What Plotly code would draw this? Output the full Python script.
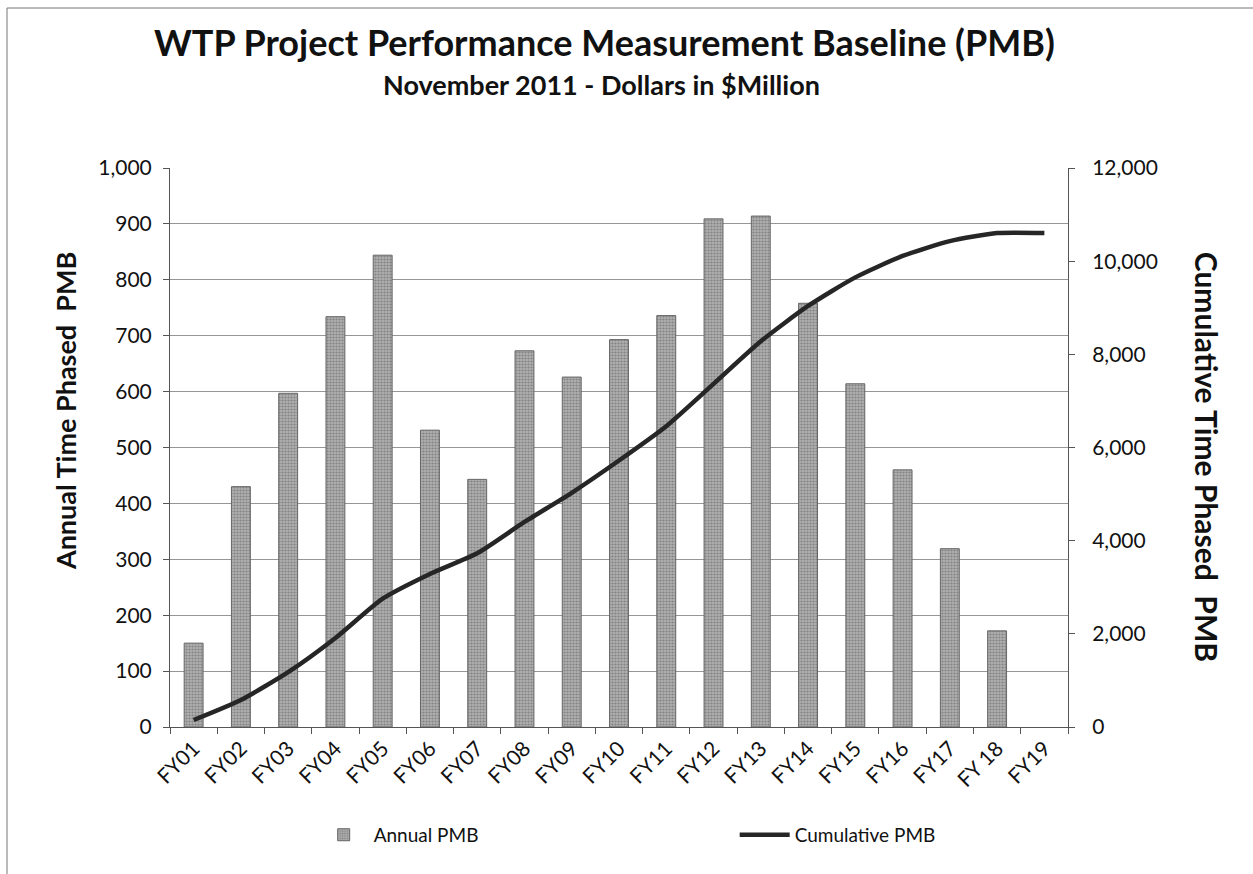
import plotly.graph_objects as go

categories = ["FY01", "FY02", "FY03", "FY04", "FY05", "FY06", "FY07", "FY08", "FY09", "FY10",
              "FY11", "FY12", "FY13", "FY14", "FY15", "FY16", "FY17", "FY 18", "FY19"]
annual_pmb = [150, 430, 597, 734, 844, 531, 443, 673, 626, 693,
              736, 909, 914, 758, 614, 460, 319, 172, None]
cumulative_pmb = [150, 580, 1177, 1911, 2755, 3286, 3729, 4402, 5028, 5721,
                  6457, 7366, 8280, 9038, 9652, 10112, 10431, 10603, 10603]

FONT = "Lato"
INK = "#111111"

fig = go.Figure()
fig.add_trace(go.Bar(
    x=categories, y=annual_pmb, name="Annual PMB",
    marker=dict(
        color="#a4a4a4",
        line=dict(color="#666666", width=1),
        pattern=dict(shape=".", fgcolor="#555555", bgcolor="#b0b0b0", size=3, solidity=0.42),
    ),
    width=0.4, yaxis="y",
))
fig.add_trace(go.Scatter(
    x=categories, y=cumulative_pmb, name="Cumulative PMB", mode="lines",
    line=dict(color="#262626", width=4.5, shape="spline", smoothing=0.6),
    yaxis="y2",
))

fig.update_layout(
    width=1253, height=874,
    paper_bgcolor="white", plot_bgcolor="white",
    margin=dict(l=170, r=185, t=168, b=147, autoexpand=False),
    font=dict(family=FONT, color=INK),
    xaxis=dict(
        type="category", tickangle=-45, tickfont=dict(size=21, family=FONT, color=INK),
        showline=True, linecolor="#555555", linewidth=1,
        ticks="outside", ticklen=6, tickcolor="#555555", tickson="boundaries",
        showgrid=False, automargin=False,
    ),
    yaxis=dict(
        range=[0, 1000], dtick=100, tickformat=",", tickfont=dict(size=21, family=FONT, color=INK),
        showline=True, linecolor="#555555", linewidth=1,
        ticks="outside", ticklen=6, tickcolor="#555555", ticklabelstandoff=7,
        showgrid=True, gridcolor="#969696", gridwidth=1,
        zeroline=False, automargin=False,
    ),
    yaxis2=dict(
        range=[0, 12000], dtick=2000, tickformat=",", tickfont=dict(size=21, family=FONT, color=INK),
        overlaying="y", side="right",
        showline=True, linecolor="#555555", linewidth=1,
        ticks="outside", ticklen=6, tickcolor="#555555", ticklabelstandoff=13,
        showgrid=False, zeroline=False, automargin=False,
    ),
    legend=dict(
        orientation="h", x=0.16, xanchor="left", y=-0.193, yanchor="middle",
        font=dict(size=19, family=FONT, color=INK),
        entrywidth=356, entrywidthmode="pixels", itemwidth=50,
    ),
    bargap=0.6,
    showlegend=True,
)

# Titles
fig.add_annotation(
    text="<b>WTP Project Performance Measurement Baseline (PMB)</b>",
    xref="paper", yref="paper", x=0.484, y=1.2254, xanchor="center", yanchor="middle",
    showarrow=False, font=dict(size=36, family=FONT, color=INK),
)
fig.add_annotation(
    text="<b>November 2011 - Dollars in $Million</b>",
    xref="paper", yref="paper", x=0.480, y=1.150, xanchor="center", yanchor="middle",
    showarrow=False, font=dict(size=27, family=FONT, color=INK),
)
fig.add_annotation(
    text="<b>Annual Time Phased  PMB</b>", textangle=-90,
    xref="paper", yref="paper", x=-0.117, y=0.565, xanchor="center", yanchor="middle",
    showarrow=False, font=dict(size=27, family=FONT, color=INK),
)
fig.add_annotation(
    text="<b>Cumulative Time Phased  PMB</b>", textangle=90,
    xref="paper", yref="paper", x=1.155, y=0.483, xanchor="center", yanchor="middle",
    showarrow=False, font=dict(size=30, family=FONT, color=INK),
)

# Chart frame (left and top edges visible in the reference)
fig.add_shape(type="line", xref="paper", yref="paper",
              x0=-0.1815, x1=-0.1815, y0=-0.27, y1=1.2862,
              line=dict(color="#777777", width=1))
fig.add_shape(type="line", xref="paper", yref="paper",
              x0=-0.1815, x1=1.21, y0=1.2862, y1=1.2862,
              line=dict(color="#777777", width=1))

fig.write_html("out.html", config={"displayModeBar": False},
               post_script="document.body.style.margin='0px';")
